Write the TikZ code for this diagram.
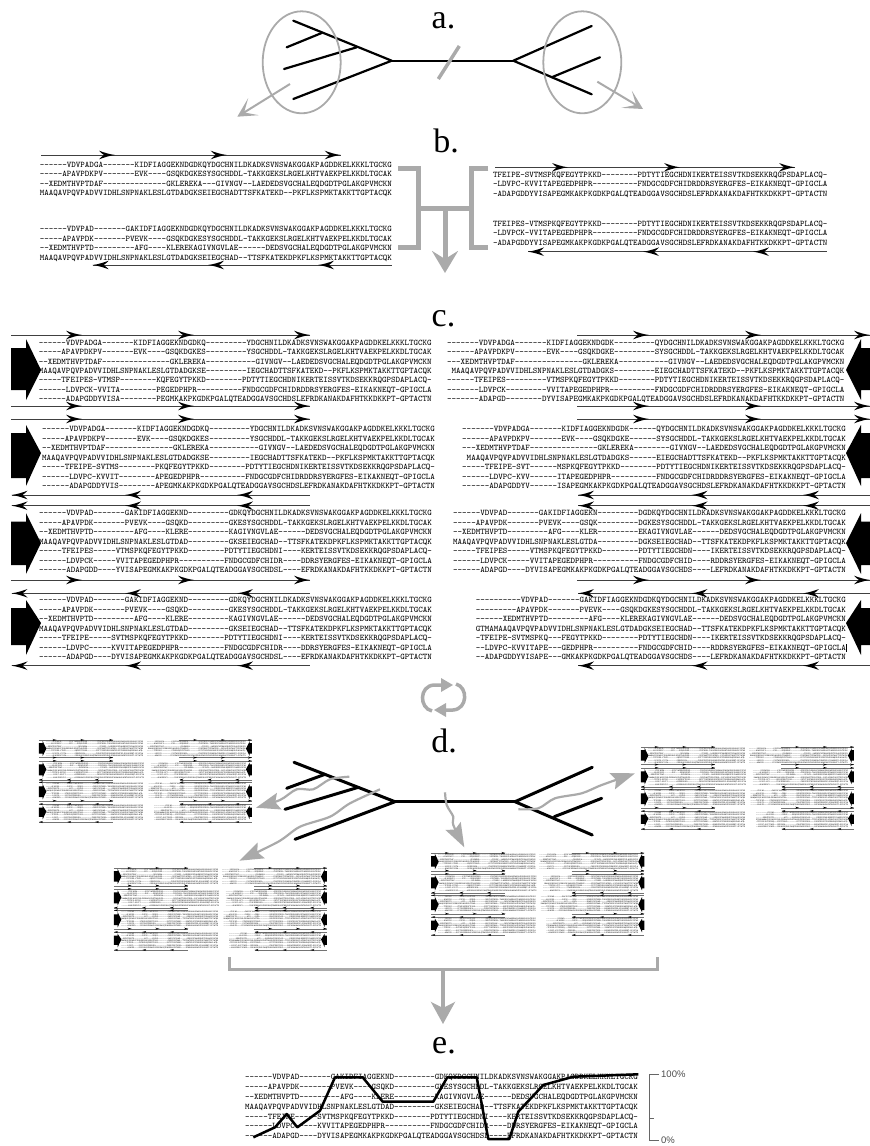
\documentclass[tikz,border=0pt]{standalone}
\usepackage{fontspec}
\newfontfamily\headfont{Liberation Serif}
\newfontfamily\pctfont{Liberation Sans}
\usetikzlibrary{arrows.meta}
\definecolor{mygray}{HTML}{AAAAAA}
\tikzset{
  seqb/.style={font=\ttfamily\fontsize{8.6}{#1}\selectfont\addfontfeature{FakeBold=0.25},align=right,anchor=north east,inner sep=0pt,outer sep=0pt,text=black},
  heading/.style={font=\headfont\fontsize{34}{34}\selectfont,anchor=base,inner sep=0pt},
  branch/.style={line width=#1,line cap=round,line join=round,black},
  gbar/.style={line width=#1,mygray},
  gwave/.style={line width=2.2pt,mygray,-{Stealth[length=24pt,width=17pt,inset=4pt]}},
  gopen/.style={line width=2pt,mygray,-{Stealth[length=19pt,width=20pt,inset=11pt]}},
  pct/.style={font=\pctfont\fontsize{9.5}{10}\selectfont,text=black!70,anchor=west,inner sep=0pt}
}
\newcommand\seqlw{0.9pt}
\newcommand\seqcol{black!75}
\newcommand\seqhead[3]{\fill[shift={(#1,#2)},xscale=#3] (0,0) .. controls (-6,-.8) and (-11,-2.5) .. (-16,-4.3) .. controls (-14.5,-2.5) and (-12,-.8) .. (-11,0) .. controls (-12,.8) and (-14.5,2.5) .. (-16,4.3) .. controls (-11,2.5) and (-6,.8) .. (0,0) -- cycle;}
\newcommand\seqarr[7]{\draw[line width=\seqlw,\seqcol] (#1,#3) -- (#2,#3); \seqhead{#4}{#3}{#7}\seqhead{#5}{#3}{#7}\seqhead{#6}{#3}{#7}}
\newcommand\bigR[5]{\fill (11,#2) -- (26,#2) -- (26,#1) -- (41,#3) -- (26,#5) -- (26,#4) -- (11,#4) -- cycle;}
\newcommand\bigL[5]{\fill (870,#2) -- (861,#2) -- (861,#1) -- (846,#3) -- (861,#5) -- (861,#4) -- (870,#4) -- cycle;}
\newcommand\rowsR[1]{\seqarr{11}{310}{#1}{82}{194}{310}{1}}
\newcommand\rowsRb[1]{\seqarr{577}{870}{#1}{649}{761}{870}{1}}
\newcommand\rowsL[1]{\seqarr{11.5}{310}{#1}{11.5}{125}{237}{-1}}
\newcommand\rowsLb[1]{\seqarr{578}{870}{#1}{578}{691.5}{803}{-1}}
\newcommand\panelc{%
\rowsR{335}\rowsR{406}\rowsR{419}\rowsL{495}\rowsL{505.7}\rowsR{580}\rowsL{593.3}\rowsL{665.7}
\rowsRb{335}\rowsRb{406}\rowsRb{419}\rowsLb{495}\rowsLb{505.7}\rowsRb{580}\rowsLb{593.3}\rowsLb{665.7}
\bigR{339}{348}{370}{390}{400}\bigR{425}{433}{453}{478}{486}\bigR{513}{521.7}{543}{565}{574}\bigR{600}{608}{623}{645}{655}
\bigL{339}{348}{370}{390}{400}\bigL{425}{433}{453}{478}{486}\bigL{513}{521.7}{543}{565}{574}\bigL{600}{608}{623}{645}{655}
\node[seqb=9.35] (c1) at (431.7,340.2) {------VDVPADGA-------KIDFIAGGEKNDGDKQ---------YDGCHNILDKADKSVNSWAKGGAKPAGDDKELKKKLTGCKG\\
-----APAVPDKPV-------EVK----GSQKDGKES---------YSGCHDDL-TAKKGEKSLRGELKHTVAEKPELKKDLTGCAK\\
--XEDMTHVPTDAF---------------GKLEREKA-----------GIVNGV--LAEDEDSVGCHALEQDGDTPGLAKGPVMCKN\\
MAAQAVPQVPADVVIDHLSNPNAKLESLGTDADGKSE---------IEGCHADTTSFKATEKD--PKFLKSPMKTAKKTTGPTACQK\\
-----TFEIPES-VTMSP--------KQFEGYTPKKD--------PDTYTIEGCHDNIKERTEISSVTKDSEKKRQGPSDAPLACQ-\\
------LDVPCK-VVITA--------PEGEDPHPR----------FNDGCGDFCHIDRDDRSYERGFES-EIKAKNEQT-GPIGCLA\\
------ADAPGDDYVISA--------PEGMKAKPKGDKPGALQTEADGGAVSGCHDSLEFRDKANAKDAFHTKKDKKPT-GPTACTN};
\node[seqb=9.35] (c2) at (844.5,340.2) {-------VDVPADGA-------KIDFIAGGEKNDGDK---------QYDGCHNILDKADKSVNSWAKGGAKPAGDDKELKKKLTGCKG\\
------APAVPDKPV-------EVK----GSQKDGKE---------SYSGCHDDL-TAKKGEKSLRGELKHTVAEKPELKKDLTGCAK\\
---XEDMTHVPTDAF---------------GKLEREKA-----------GIVNGV--LAEDEDSVGCHALEQDGDTPGLAKGPVMCKN\\
MAAQAVPQVPADVVIDHLSNPNAKLESLGTDADGKS---------EIEGCHADTTSFKATEKD--PKFLKSPMKTAKKTTGPTACQK\\
------TFEIPES---------VTMSPKQFEGYTPKKD--------PDTYTIEGCHDNIKERTEISSVTKDSEKKRQGPSDAPLACQ-\\
-------LDVPCK---------VVITAPEGEDPHPR----------FNDGCGDFCHIDRDDRSYERGFES-EIKAKNEQT-GPIGCLA\\
-------ADAPGD--------DYVISAPEGMKAKPKGDKPGALQTEADGGAVSGCHDSLEFRDKANAKDAFHTKKDKKPT-GPTACTN};
\node[seqb=9.5] (c3) at (435,426.5) {------VDVPADGA-------KIDFIAGGEKNDGDKQ---------YDGCHNILDKADKSVNSWAKGGAKPAGDDKELKKKLTGCKG\\
-----APAVPDKPV-------EVK----GSQKDGKES---------YSGCHDDL-TAKKGEKSLRGELKHTVAEKPELKKDLTGCAK\\
--XEDMTHVPTDAF---------------GKLEREKA-----------GIVNGV--LAEDEDSVGCHALEQDGDTPGLAKGPVMCKN\\
MAAQAVPQVPADVVIDHLSNPNAKLESLGTDADGKSE---------IEGCHADTTSFKATEKD--PKFLKSPMKTAKKTTGPTACQK\\
-----TFEIPE-SVTMS--------PKQFEGYTPKKD--------PDTYTIEGCHDNIKERTEISSVTKDSEKKRQGPSDAPLACQ-\\
------LDVPC-KVVIT--------APEGEDPHPR----------FNDGCGDFCHIDRDDRSYERGFES-EIKAKNEQT-GPIGCLA\\
------ADAPGDDYVIS--------APEGMKAKPKGDKPGALQTEADGGAVSGCHDSLEFRDKANAKDAFHTKKDKKPT-GPTACTN};
\node[seqb=9.5] (c4) at (846,426.5) {-------VDVPADGA-------KIDFIAGGEKNDGDK------QYDGCHNILDKADKSVNSWAKGGAKPAGDDKELKKKLTGCKG\\
------APAVPDKPV-------EVK----GSQKDGKE------SYSGCHDDL-TAKKGEKSLRGELKHTVAEKPELKKDLTGCAK\\
---XEDMTHVPTDAF---------------GKLEREKA--------GIVNGV--LAEDEDSVGCHALEQDGDTPGLAKGPVMCKN\\
MAAQAVPQVPADVVIDHLSNPNAKLESLGTDADGKS------EIEGCHADTTSFKATEKD--PKFLKSPMKTAKKTTGPTACQK\\
-----TFEIPE-SVT------MSPKQFEGYTPKKD--------PDTYTIEGCHDNIKERTEISSVTKDSEKKRQGPSDAPLACQ-\\
------LDVPC-KVV------ITAPEGEDPHPR----------FNDGCGDFCHIDRDDRSYERGFES-EIKAKNEQT-GPIGCLA\\
------ADAPGDDYV------ISAPEGMKAKPKGDKPGALQTEADGGAVSGCHDSLEFRDKANAKDAFHTKKDKKPT-GPTACTN};
\node[seqb=9.5] (c5) at (432,510.5) {------VDVPAD-------GAKIDFIAGGEKND---------GDKQYDGCHNILDKADKSVNSWAKGGAKPAGDDKELKKKLTGCKG\\
-----APAVPDK-------PVEVK----GSQKD---------GKESYSGCHDDL-TAKKGEKSLRGELKHTVAEKPELKKDLTGCAK\\
--XEDMTHVPTD---------AFG----KLERE---------KAGIVNGVLAE------DEDSVGCHALEQDGDTPGLAKGPVMCKN\\
MAAQAVPQVPADVVIDHLSNPNAKLESLGTDAD---------GKSEIEGCHAD--TTSFKATEKDPKFLKSPMKTAKKTTGPTACQK\\
-----TFEIPES-----VTMSPKQFEGYTPKKD--------PDTYTIEGCHDNI----KERTEISSVTKDSEKKRQGPSDAPLACQ-\\
------LDVPCK-----VVITAPEGEDPHPR----------FNDGCGDFCHIDR----DDRSYERGFES-EIKAKNEQT-GPIGCLA\\
------ADAPGDD----YVISAPEGMKAKPKGDKPGALQTEADGGAVSGCHDSL----EFRDKANAKDAFHTKKDKKPT-GPTACTN};
\node[seqb=9.5] (c6) at (846,510.5) {------VDVPAD-------GAKIDFIAGGEKN---------DGDKQYDGCHNILDKADKSVNSWAKGGAKPAGDDKELKKKLTGCKG\\
-----APAVPDK-------PVEVK----GSQK---------DGKESYSGCHDDL-TAKKGEKSLRGELKHTVAEKPELKKDLTGCAK\\
--XEDMTHVPTD---------AFG----KLER---------EKAGIVNGVLAE------DEDSVGCHALEQDGDTPGLAKGPVMCKN\\
MAAQAVPQVPADVVIDHLSNPNAKLESLGTDA---------DGKSEIEGCHAD--TTSFKATEKDPKFLKSPMKTAKKTTGPTACQK\\
-----TFEIPES-----VTMSPKQFEGYTPKKD--------PDTYTIEGCHDN----IKERTEISSVTKDSEKKRQGPSDAPLACQ-\\
------LDVPCK-----VVITAPEGEDPHPR----------FNDGCGDFCHID----RDDRSYERGFES-EIKAKNEQT-GPIGCLA\\
------ADAPGD----DYVISAPEGMKAKPKGDKPGALQTEADGGAVSGCHDS----LEFRDKANAKDAFHTKKDKKPT-GPTACTN};
\node[seqb=9.5] (c7) at (432,597.3) {------VDVPAD-------GAKIDFIAGGEKND---------GDKQYDGCHNILDKADKSVNSWAKGGAKPAGDDKELKKKLTGCKG\\
-----APAVPDK-------PVEVK----GSQKD---------GKESYSGCHDDL-TAKKGEKSLRGELKHTVAEKPELKKDLTGCAK\\
--XEDMTHVPTD---------AFG----KLERE---------KAGIVNGVLAE------DEDSVGCHALEQDGDTPGLAKGPVMCKN\\
MAAQAVPQVPADVVIDHLSNPNAKLESLGTDAD---------GKSEIEGCHAD--TTSFKATEKDPKFLKSPMKTAKKTTGPTACQK\\
-----TFEIPE-----SVTMSPKQFEGYTPKKD--------PDTYTIEGCHDNI----KERTEISSVTKDSEKKRQGPSDAPLACQ-\\
------LDVPC-----KVVITAPEGEDPHPR----------FNDGCGDFCHIDR----DDRSYERGFES-EIKAKNEQT-GPIGCLA\\
------ADAPGD----DYVISAPEGMKAKPKGDKPGALQTEADGGAVSGCHDSL----EFRDKANAKDAFHTKKDKKPT-GPTACTN};
\node[seqb=9.5] (c8) at (846,597.3) {----------VDVPAD-------GAKIDFIAGGEKNDGDKQYDGCHNILDKADKSVNSWAKGGAKPAGDDKELKKKLTGCKG\\
---------APAVPDK-------PVEVK----GSQKDGKESYSGCHDDL-TAKKGEKSLRGELKHTVAEKPELKKDLTGCAK\\
------XEDMTHVPTD---------AFG----KLEREKAGIVNGVLAE------DEDSVGCHALEQDGDTPGLAKGPVMCKN\\
GTMAMAAQAVPQVPADVVIDHLSNPNAKLESLGTDADGKSEIEGCHAD--TTSFKATEKDPKFLKSPMKTAKKTTGPTACQK\\
-TFEIPE-SVTMSPKQ---FEGYTPKKD--------PDTYTIEGCHDN----IKERTEISSVTKDSEKKRQGPSDAPLACQ-\\
--LDVPC-KVVITAPE---GEDPHPR----------FNDGCGDFCHID----RDDRSYERGFES-EIKAKNEQT-GPIGCLA\\
--ADAPGDDYVISAPE---GMKAKPKGDKPGALQTEADGGAVSGCHDS----LEFRDKANAKDAFHTKKDKKPT-GPTACTN};
}
\begin{document}
\begin{tikzpicture}[x=1pt,y=-1pt]
\useasboundingbox (0,0) rectangle (870,1146);
% headings
\node[heading] (ha) at (443.5,28) {a.};
\node[heading] (hb) at (446,152) {b.};
\node[heading] (hc) at (443.5,326) {c.};
\node[heading] (hd) at (444,752) {d.};
\node[heading] (he) at (444,1053) {e.};
% tree a
\coordinate (aL) at (391.7,60.7);\coordinate (aR) at (513.3,60.7);
\coordinate (al1) at (293.3,20.7);\coordinate (al2) at (286.7,47.3);\coordinate (al2j) at (321.7,33);
\coordinate (al3) at (284,69);\coordinate (al3j) at (356.7,47.3);\coordinate (al4) at (293.3,99);
\coordinate (ar1) at (591.7,26);\coordinate (ar2) at (591.7,94.3);\coordinate (ar3) at (600,57.3);\coordinate (ar3j) at (551.7,77.3);
\draw[branch=2.2pt] (aL) -- (aR);
\draw[branch=2.2pt] (al1) -- (aL) -- (al4);
\draw[branch=2.2pt] (al2) -- (al2j);\draw[branch=2.2pt] (al3) -- (al3j);
\draw[branch=2.2pt] (ar1) -- (aR) -- (ar2);\draw[branch=2.2pt] (ar3j) -- (ar3);
\draw[line width=3.5pt,mygray] (438.3,79) -- (459.3,46);
\draw[line width=1.8pt,mygray] (301.7,62.3) ellipse (39pt and 51pt);
\draw[line width=1.8pt,mygray] (582.3,62.3) ellipse (39pt and 51pt);
\coordinate (aa1) at (290,84);\coordinate (aa1t) at (237.3,116.7);
\coordinate (aa2) at (597.3,81.7);\coordinate (aa2t) at (643,109);
\draw[gopen] (aa1) -- (aa1t);\draw[gopen] (aa2) -- (aa2t);
% section b
\seqarr{41}{341}{155}{115}{226.7}{340.7}{1}
\seqarr{92.7}{392}{265}{92.7}{208}{318}{-1}
\seqarr{495}{795}{167.3}{568}{680}{795}{1}
\seqarr{528}{827}{251.7}{528}{643}{753}{-1}
\node[seqb=9.35] (b1) at (392,162) {------VDVPADGA-------KIDFIAGGEKNDGDKQYDGCHNILDKADKSVNSWAKGGAKPAGDDKELKKKLTGCKG\\
-----APAVPDKPV-------EVK----GSQKDGKESYSGCHDDL-TAKKGEKSLRGELKHTVAEKPELKKDLTGCAK\\
--XEDMTHVPTDAF--------------GKLEREKA---GIVNGV--LAEDEDSVGCHALEQDGDTPGLAKGPVMCKN\\
MAAQAVPQVPADVVIDHLSNPNAKLESLGTDADGKSEIEGCHADTTSFKATEKD--PKFLKSPMKTAKKTTGPTACQK};
\node[seqb=9.5] (b2) at (392,226.5) {------VDVPAD-------GAKIDFIAGGEKNDGDKQYDGCHNILDKADKSVNSWAKGGAKPAGDDKELKKKLTGCKG\\
-----APAVPDK-------PVEVK----GSQKDGKESYSGCHDDL-TAKKGEKSLRGELKHTVAEKPELKKDLTGCAK\\
--XEDMTHVPTD---------AFG----KLEREKAGIVNGVLAE------DEDSVGCHALEQDGDTPGLAKGPVMCKN\\
MAAQAVPQVPADVVIDHLSNPNAKLESLGTDADGKSEIEGCHAD--TTSFKATEKDPKFLKSPMKTAKKTTGPTACQK};
\node[seqb=9.6] (b3) at (827.3,172) {TFEIPE-SVTMSPKQFEGYTPKKD--------PDTYTIEGCHDNIKERTEISSVTKDSEKKRQGPSDAPLACQ-\\
-LDVPC-KVVITAPEGEDPHPR----------FNDGCGDFCHIDRDDRSYERGFES-EIKAKNEQT-GPIGCLA\\
-ADAPGDDYVISAPEGMKAKPKGDKPGALQTEADGGAVSGCHDSLEFRDKANAKDAFHTKKDKKPT-GPTACTN};
\node[seqb=9.6] (b4) at (827.3,220.7) {TFEIPES-VTMSPKQFEGYTPKKD--------PDTYTIEGCHDNIKERTEISSVTKDSEKKRQGPSDAPLACQ-\\
-LDVPCK-VVITAPEGEDPHPR----------FNDGCGDFCHIDRDDRSYERGFES-EIKAKNEQT-GPIGCLA\\
-ADAPGDDYVISAPEGMKAKPKGDKPGALQTEADGGAVSGCHDSLEFRDKANAKDAFHTKKDKKPT-GPTACTN};
% bracket b
\coordinate (bj1) at (418,208);\coordinate (bj2) at (471.7,208);\coordinate (bt) at (445,208);\coordinate (btip) at (445,273);
\draw[gbar=5pt] (398,168.5) -- (418,168.5) -- (418,247) -- (398,247);
\draw[gbar=5pt] (488.3,168.5) -- (471.7,168.5) -- (471.7,247) -- (488.3,247);
\draw[gbar=5pt] (bj1) -- (bj2);
\draw[line width=5pt,mygray,-{Stealth[length=22pt,width=26pt,inset=8pt]}] (bt) -- (btip);
% section c
\panelc
\draw[line width=.6pt] (846.7,644) -- (846.7,652);
% loop icon
\draw[line width=3.5pt,mygray] (432,711) .. controls (419,708) and (419,686) .. (434,685) -- (442,685);
\fill[mygray] (453,685) -- (441,678) -- (441,692) -- cycle;
\draw[line width=3.5pt,mygray] (456,684) .. controls (468,687) and (468,709) .. (453,710) -- (445,710);
\fill[mygray] (434,710) -- (446,703) -- (446,717) -- cycle;
% section d thumbnails
\def\seqlw{0.22pt}
\def\seqcol{black!55}
\begin{scope}[shift={(36.2,739)},scale=.248,shift={(0,-331)},transform shape,name prefix=t1-]\panelc\end{scope}
\begin{scope}[shift={(111.2,867)},scale=.248,shift={(0,-331)},transform shape,name prefix=t2-]\panelc\end{scope}
\begin{scope}[shift={(428.5,852)},scale=.248,shift={(0,-331)},transform shape,name prefix=t3-]\panelc\end{scope}
\begin{scope}[shift={(638.2,746)},scale=.248,shift={(0,-331)},transform shape,name prefix=t4-]\panelc\end{scope}
% tree d
\coordinate (dL) at (395,801.7);\coordinate (dR) at (515,801.7);
\coordinate (dl1) at (294,762.3);\coordinate (dl2) at (286.7,788.3);\coordinate (dl2j) at (325,774.3);
\coordinate (dl3) at (285,809.3);\coordinate (dl3j) at (358.3,787.3);\coordinate (dl4) at (295,839.3);
\coordinate (dr1) at (592.3,767.3);\coordinate (dr2) at (592.3,835);\coordinate (dr3) at (601.7,798.3);\coordinate (dr3j) at (554.3,816.7);
\draw[branch=3pt] (dL) -- (dR);
\draw[branch=3pt] (dl1) -- (dL) -- (dl4);
\draw[branch=3pt] (dl2) -- (dl2j);\draw[branch=3pt] (dl3) -- (dl3j);
\draw[branch=3pt] (dr1) -- (dR) -- (dr2);\draw[branch=3pt] (dr3j) -- (dr3);
\draw[gwave] plot[smooth] coordinates {(349.3,776.7) (330,779.3) (313.3,789.3) (296.7,789.3) (280,800) (256,807.7)};
\draw[gwave] plot[smooth] coordinates {(380,789.3) (350,803.3) (330,816.7) (300,826.7) (278.3,841.7) (239.3,860.7)};
\draw[gwave] plot[smooth] coordinates {(445,792.3) (446.7,805) (453.3,816.7) (453.3,825) (464.3,847.3)};
\draw[gwave] plot[smooth] coordinates {(518.3,809.3) (538.3,808.3) (555,798.3) (581.7,793.3) (601.7,785) (635,773.3)};
% bracket to e
\coordinate (dbm) at (443,969);\coordinate (dbt) at (443,1024);
\draw[gbar=3pt] (229,957) -- (229,969) -- (657.7,969) -- (657.7,957);
\draw[line width=3.5pt,mygray,-{Stealth[length=22pt,width=24pt,inset=6pt]}] (dbm) -- (dbt);
% section e
\node[seqb=9.8] (e1) at (638,1074.5) {------VDVPAD-------GAKIDFIAGGEKND---------GDKQYDGCHNILDKADKSVNSWAKGGAKPAGDDKELKKKLTGCKG\\
-----APAVPDK-------PVEVK----GSQKD---------GKESYSGCHDDL-TAKKGEKSLRGELKHTVAEKPELKKDLTGCAK\\
--XEDMTHVPTD---------AFG----KLERE---------KAGIVNGVLAE------DEDSVGCHALEQDGDTPGLAKGPVMCKN\\
MAAQAVPQVPADVVIDHLSNPNAKLESLGTDAD---------GKSEIEGCHAD--TTSFKATEKDPKFLKSPMKTAKKTTGPTACQK\\
-----TFEIPE-----SVTMSPKQFEGYTPKKD--------PDTYTIEGCHDNI----KERTEISSVTKDSEKKRQGPSDAPLACQ-\\
------LDVPC-----KVVITAPEGEDPHPR----------FNDGCGDFCHIDR----DDRSYERGFES-EIKAKNEQT-GPIGCLA\\
------ADAPGD----DYVISAPEGMKAKPKGDKPGALQTEADGGAVSGCHDSL----EFRDKANAKDAFHTKKDKKPT-GPTACTN};
\draw[line width=2.5pt,line join=round,black] (253.3,1137.3) -- (275,1127.3) -- (286.7,1114) -- (297.3,1127.3) -- (320,1110.7) -- (335,1077.3) -- (362.7,1077.3) -- (382.7,1101.7) -- (433.3,1101.7) -- (447.3,1077.3) -- (476.7,1077.3) -- (488.3,1139) -- (509.3,1139) -- (518.3,1111.7) -- (543.3,1085) -- (573.3,1076.7) -- (638.3,1074.3);
\node[pct] (p100) at (661,1074) {100\%};
\node[pct] (p0) at (661,1140) {0\%};
\draw[line width=.8pt,black!60] (659,1074) -- (649,1074) -- (649,1140) -- (659,1140);
\draw[line width=.8pt,black!60] (649,1118) -- (654,1118);
\end{tikzpicture}
\end{document}
